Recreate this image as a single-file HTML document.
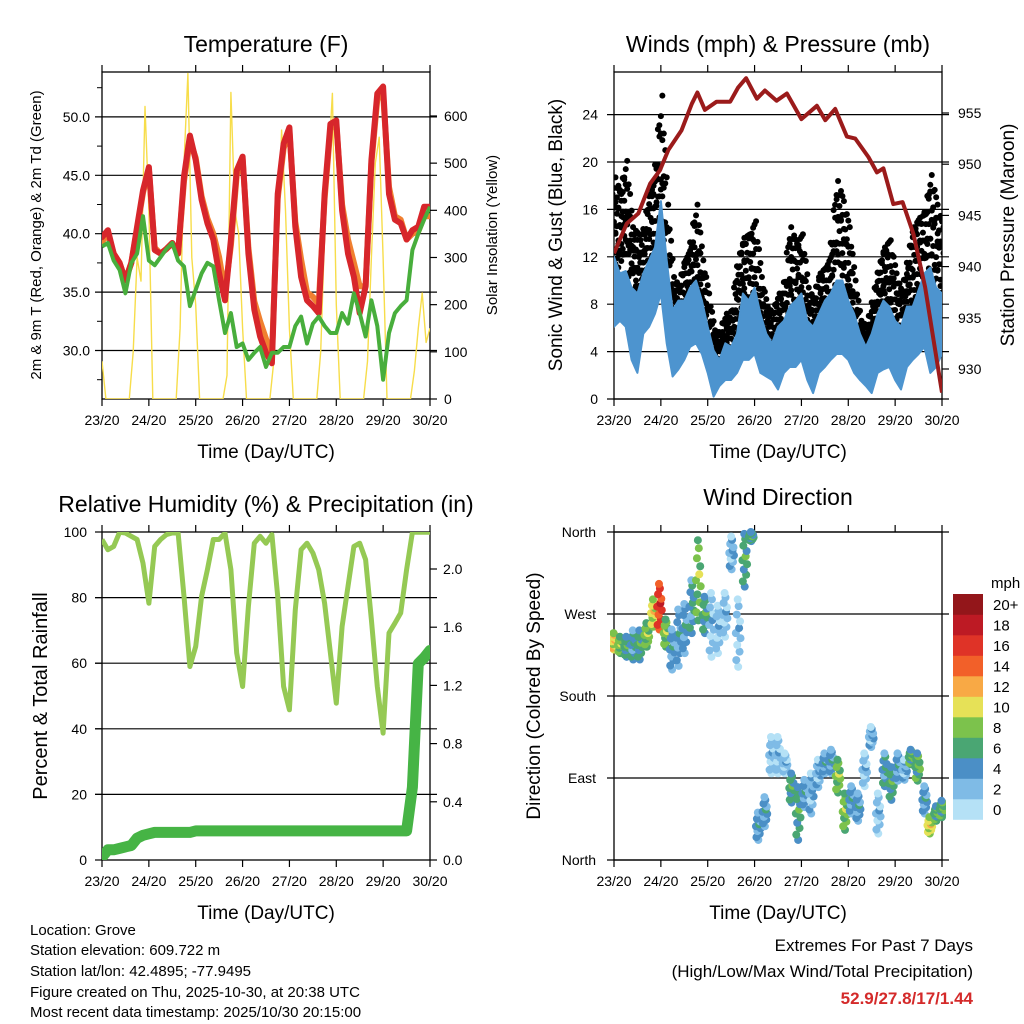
<!DOCTYPE html>
<html><head><meta charset="utf-8"><title>Station Meteogram</title>
<style>
html,body{margin:0;padding:0;background:#fff;}
svg{display:block;font-family:"Liberation Sans",Arial,sans-serif;}
</style></head>
<body>
<svg id="chart" width="1024" height="1024" viewBox="0 0 1024 1024" xmlns="http://www.w3.org/2000/svg">
<defs>
<clipPath id="cT"><rect x="102" y="72" width="328" height="327"/></clipPath>
<clipPath id="cW"><rect x="614" y="72" width="328" height="327"/></clipPath>
<clipPath id="cR"><rect x="102" y="532" width="328" height="328"/></clipPath>
<clipPath id="cD"><rect x="610" y="526" width="336" height="338"/></clipPath>
</defs>
<rect width="1024" height="1024" fill="#fff"/>

<text x="266" y="52" font-size="23" text-anchor="middle">Temperature (F)</text>
<text x="778" y="52" font-size="23" text-anchor="middle">Winds (mph) &amp; Pressure (mb)</text>
<text x="266" y="512" font-size="23" text-anchor="middle">Relative Humidity (%) &amp; Precipitation (in)</text>
<text x="778" y="505" font-size="23" text-anchor="middle">Wind Direction</text>

<text x="266" y="458" font-size="19" text-anchor="middle">Time (Day/UTC)</text>
<text x="778" y="458" font-size="19" text-anchor="middle">Time (Day/UTC)</text>
<text x="266" y="919" font-size="19" text-anchor="middle">Time (Day/UTC)</text>
<text x="778" y="919" font-size="19" text-anchor="middle">Time (Day/UTC)</text>

<text transform="translate(41,235) rotate(-90)" font-size="15" text-anchor="middle">2m &amp; 9m T (Red, Orange) &amp; 2m Td (Green)</text>
<text transform="translate(497,235) rotate(-90)" font-size="15" text-anchor="middle">Solar Insolation (Yellow)</text>
<text transform="translate(562,235) rotate(-90)" font-size="19" text-anchor="middle">Sonic Wind &amp; Gust (Blue, Black)</text>
<text transform="translate(1014,235) rotate(-90)" font-size="19" text-anchor="middle">Station Pressure (Maroon)</text>
<text transform="translate(47,696) rotate(-90)" font-size="20" text-anchor="middle">Percent &amp; Total Rainfall</text>
<text transform="translate(540,696) rotate(-90)" font-size="19" text-anchor="middle">Direction (Colored By Speed)</text>

<g id="layer"></g>

<text x="991" y="588" font-size="15">mph</text>

<g font-size="15">
<text x="30" y="935">Location: Grove</text>
<text x="30" y="955">Station elevation: 609.722 m</text>
<text x="30" y="976">Station lat/lon: 42.4895; -77.9495</text>
<text x="30" y="997">Figure created on Thu, 2025-10-30, at 20:38 UTC</text>
<text x="30" y="1017">Most recent data timestamp: 2025/10/30 20:15:00</text>
</g>
<text x="973" y="951" font-size="17" text-anchor="end">Extremes For Past 7 Days</text>
<text x="973" y="977" font-size="17" text-anchor="end">(High/Low/Max Wind/Total Precipitation)</text>
<text x="973" y="1004" font-size="17" font-weight="bold" fill="#d42a2a" text-anchor="end">52.9/27.8/17/1.44</text>
</svg>
<script>
// ---------- DATA ----------
const dayLabels = ["23/20","24/20","25/20","26/20","27/20","28/20","29/20","30/20"];
// temperature, 3-hourly (1/8 day steps)
const tempRed = [39.7,40.3,38.3,37.5,36.0,37.5,40.6,43.7,45.7,38.6,38.3,38.7,39.2,38.3,44.9,48.4,46.3,42.9,40.9,39.5,36.6,34.3,39.5,45.4,46.6,38.3,33.5,31.2,29.8,28.9,43.4,47.7,49.1,40.6,36.3,34.3,33.8,33.2,43.4,49.4,49.7,42.0,38.3,36.3,33.2,35.5,46.3,52.0,52.6,43.4,41.2,40.9,39.5,40.3,40.6,42.3,42.3];
const tempOrange = [39.3,40.0,38.3,37.5,36.0,37.5,40.4,43.5,45.5,38.8,38.3,38.7,39.2,38.3,44.5,48.0,46.5,43.2,41.3,40.0,38.0,35.0,39.0,45.0,46.4,38.8,34.2,32.5,31.0,29.5,43.0,47.3,48.8,41.0,37.8,35.0,34.6,34.0,43.0,49.0,49.4,42.5,39.5,37.5,35.5,35.5,46.0,51.5,52.0,44.0,41.5,41.2,39.5,40.0,40.2,41.5,41.5];
const tempDew = [38.9,39.2,37.7,36.9,34.9,37.5,38.3,41.5,37.7,37.3,38.0,38.7,39.2,37.7,37.2,33.8,35.2,36.6,37.5,37.2,34.3,31.5,33.2,30.3,30.6,29.2,29.8,30.3,28.6,29.8,29.8,30.3,30.3,32.1,32.9,30.6,32.3,32.9,32.1,31.5,31.5,33.2,32.3,34.9,33.2,31.2,34.3,32.1,27.5,31.5,33.2,33.8,34.3,38.6,40.0,41.2,42.3];
// solar insolation, 2-hourly (W/m2)
const solar = [80,0,0,0,0,0,0,0,100,300,250,620,400,0,0,0,0,0,0,0,150,500,690,300,200,0,0,0,0,0,0,0,50,650,400,350,150,0,0,0,0,0,0,0,80,300,570,400,150,0,0,0,0,0,0,0,100,350,500,648,200,0,0,0,0,0,0,0,80,300,500,555,300,0,0,0,0,0,0,0,60,150,225,120,150];
// winds, 3-hourly (mph)
const windHi = [12.0,10.6,10.8,9.4,8.9,10.6,11.7,12.8,16.7,11.7,7.5,8.3,8.3,9.4,10.0,8.3,6.1,4.1,3.3,4.7,4.4,5.5,8.9,8.3,9.4,7.2,5.5,4.7,6.1,6.6,7.8,8.3,8.9,6.6,6.1,7.2,8.3,8.9,10.0,10.0,8.3,7.2,5.5,4.4,5.5,7.2,8.3,7.8,6.6,6.1,7.8,7.8,9.2,10.6,11.1,9.4,8.9];
const windLo = [6.1,6.6,6.1,3.3,2.2,5.5,6.1,7.2,8.9,4.7,1.9,2.5,3.3,4.4,4.7,3.8,2.2,0.2,1.1,1.6,1.6,2.2,3.3,3.3,3.8,2.2,1.9,1.6,0.8,2.2,2.7,2.7,3.3,1.6,0.5,2.2,2.7,3.3,3.8,3.8,3.3,2.2,1.6,1.1,0.5,2.2,2.5,2.7,1.6,0.8,2.7,3.3,3.8,4.4,2.2,2.7,3.8];
const gustHi = [18.7,17.3,20.1,14.5,13.9,13.9,17.3,18.7,25.6,16.4,10.3,9.4,11.7,12.8,16.4,11.7,8.9,5.8,5.5,7.2,6.6,11.1,13.6,13.9,15.0,10.3,7.8,7.2,8.9,8.9,14.5,13.1,13.9,9.4,8.3,10.6,11.1,12.2,18.4,16.7,14.5,10.0,6.6,6.1,7.8,10.6,12.8,13.4,10.6,8.9,11.1,14.5,15.3,15.6,18.9,16.4,14.5];
const gustLo = [11.7,11.1,12.2,8.9,7.5,9.4,10.6,11.7,13.1,8.9,5.5,4.7,5.3,7.5,8.9,6.7,4.7,2.7,2.2,3.3,3.3,4.7,6.7,6.1,7.2,5.3,3.9,3.3,3.3,4.4,6.1,6.1,6.7,4.4,3.9,5.0,5.5,6.1,8.3,8.9,7.2,5.5,3.9,3.3,3.9,5.0,6.1,6.1,5.0,4.4,6.1,6.7,8.3,7.8,8.9,8.3,7.2];
// pressure (mb) at irregular days
const presDay = [0,0.27,0.52,0.77,0.98,1.16,1.44,1.66,1.78,1.94,2.19,2.48,2.65,2.82,3.05,3.22,3.47,3.69,4.0,4.33,4.51,4.72,4.97,5.15,5.43,5.61,5.75,5.96,6.16,6.39,6.64,6.82,7.0];
const presVal = [941.3,944.2,945.2,948.1,949.4,951.4,953.3,955.9,957.0,955.3,956.1,956.1,957.5,958.4,956.4,957.2,956.2,956.9,954.4,955.7,954.3,955.4,952.7,952.5,950.7,949.2,949.6,946.1,946.3,943.2,938.0,932.8,927.7];
// relative humidity (%) & precip (in), 3-hourly
const rh = [97.7,94.6,95.6,99.9,99.7,98.7,97.7,90.5,78.3,95.6,97.7,99.2,99.7,99.7,80.4,59.0,65.1,80.4,88.5,97.7,97.7,99.7,88.5,63.1,52.9,77.3,96.6,98.7,96.6,99.2,80.4,52.9,45.8,76.3,94.6,96.6,93.6,88.5,78.3,63.1,47.8,71.2,83.4,95.6,96.6,91.6,73.2,52.9,38.7,69.2,72.2,75.3,88.5,99.9,99.9,99.9,99.9];
const precip = [0.02,0.07,0.07,0.08,0.09,0.10,0.15,0.17,0.18,0.19,0.19,0.19,0.19,0.19,0.19,0.19,0.20,0.20,0.20,0.20,0.20,0.20,0.20,0.20,0.20,0.20,0.20,0.20,0.20,0.20,0.20,0.20,0.20,0.20,0.20,0.20,0.20,0.20,0.20,0.20,0.20,0.20,0.20,0.20,0.20,0.20,0.20,0.20,0.20,0.20,0.20,0.20,0.20,0.50,1.35,1.39,1.44];
// wind direction clusters
const dirDay = [0,0.135,0.27,0.41,0.55,0.70,0.84,0.97,1.11,1.24,1.38,1.51,1.66,1.80,1.94,2.08,2.22,2.37,2.51,2.65,2.79,2.93,3.08,3.22,3.36,3.50,3.65,3.79,3.93,4.07,4.21,4.36,4.50,4.64,4.78,4.93,5.07,5.21,5.35,5.49,5.64,5.78,5.92,6.06,6.20,6.34,6.48,6.63,6.74,6.88,7.0];
const dirDeg = [240,236,234,236,236,247,271,278,249,231,244,254,278,307,269,258,253,269,337,249,329,355,37,53,115,115,106,79,51,73,73,95,106,108,92,53,66,58,99,135,51,99,84,102,99,113,102,66,38,51,56];
const dirSpread = [9,9,11,16,16,13,15,25,15,22,31,27,29,44,20,35,26,24,18,37,29,5,15,16,20,20,11,16,29,15,22,15,11,13,18,20,15,15,18,11,22,18,18,15,11,8,15,15,9,8,9];
const dirSpeed = [11,8,6,5,6,8,10,16,8,4,4,4,5,8,6,2,2,2,3,2,6,6,4,4,2,2,2,6,6,4,3,3,4,4,8,8,4,4,2,3,2,5,6,4,3,7,7,4,10,7,7];
const speedLabels = ["0","2","4","6","8","10","12","14","16","18","20+"];
const tempTicks = [30,35,40,45,50];
const solarTicks = [0,100,200,300,400,500,600];
const windTicks = [0,4,8,12,16,20,24];
const presTicks = [930,935,940,945,950,955];
const rhTicks = [0,20,40,60,80,100];
const prTicks = [0.0,0.4,0.8,1.2,1.6,2.0];
const dirTicks = [0,90,180,270,360];
const dirNames = ["North","East","South","West","North"];

// ---------- SCALES ----------
const NS="http://www.w3.org/2000/svg";
const layer=document.getElementById('layer');
const xL=d=>102+d*328/7;
const xR=d=>614+d*328/7;
const yT=v=>350.5-(v-30)*11.68;
const yS=v=>399-v*0.4717;
const yW=v=>399-v*11.85;
const yP=p=>113+(955-p)*10.24;
const yRH=v=>860-v*3.28;
const yPr=p=>860-p*145.5;
const yD=d=>860-d*328/360;
const speedColors=["#b5e1f6","#7fbbe6","#4b8fc6","#4aa673","#7cc24c","#e6e157","#f8a945","#f26029","#df3327","#bd1a24","#93161a"];
function colorFor(s){return speedColors[Math.max(0,Math.min(10,Math.floor(s/2)))];}
function mk(tag,attrs,parent){const e=document.createElementNS(NS,tag);for(const k in attrs)e.setAttribute(k,attrs[k]);(parent||layer).appendChild(e);return e;}
function txt(x,y,s,anchor,size,parent){const e=mk('text',{x:x,y:y,'font-size':size||14,'text-anchor':anchor||'start'},parent);e.textContent=s;return e;}
function pathFrom(xs,ys){return xs.map((x,i)=>(i?'L':'M')+x.toFixed(1)+','+ys[i].toFixed(1)).join('');}

function frame(x0,y0,w,h,gridYs,xf,name){
  const g=mk('g',{});
  
  
  gridYs.forEach(y=>{const l=mk('line',{x1:x0-7,x2:x0+w+7,y1:y,y2:y,stroke:'#000','stroke-width':1.2},g);
    
    });
  const r=mk('rect',{x:x0,y:y0,width:w,height:h,fill:'none',stroke:'#000','stroke-width':1.3},g);
  
  
  for(let d=0;d<=7;d++){const x=xf(d);
    mk('line',{x1:x,x2:x,y1:y0+h,y2:y0+h+7,stroke:'#000','stroke-width':1.2},g);
    mk('line',{x1:x,x2:x,y1:y0,y2:y0-7,stroke:'#000','stroke-width':1.2},g);
    const t=txt(x,y0+h+26,dayLabels[d],'middle',14,g);
    
    }
  return g;
}

// ---------- TEMPERATURE PANEL ----------
const tG=frame(102,72,328,327,tempTicks.map(yT),xL,'temperature');
tempTicks.forEach(v=>{const t=txt(90,yT(v)+5,v.toFixed(1),'end',14,tG);
  
  });
for(let v=27.5;v<54;v+=5){mk('line',{x1:97,x2:102,y1:yT(v),y2:yT(v),stroke:'#000'},tG);}
solarTicks.forEach(v=>{mk('line',{x1:430,x2:437,y1:yS(v),y2:yS(v),stroke:'#000','stroke-width':1.2},tG);
  const t=txt(444,yS(v)+5,String(v),'start',14,tG);
  
  });
const tPlot=mk('g',{'clip-path':'url(#cT)'});


const solarLine=mk('path',{d:pathFrom(solar.map((v,i)=>xL(i/12)),solar.map(yS)),fill:'none',stroke:'#f7dd4a','stroke-width':1.4,'stroke-linejoin':'round'},tPlot);


const oLine=mk('path',{d:pathFrom(tempOrange.map((v,i)=>xL(i/8)),tempOrange.map(yT)),fill:'none',stroke:'#f08030','stroke-width':6,'stroke-linejoin':'round','stroke-linecap':'round'},tPlot);


const rLine=mk('path',{d:pathFrom(tempRed.map((v,i)=>xL(i/8)),tempRed.map(yT)),fill:'none',stroke:'#d7262b','stroke-width':6,'stroke-linejoin':'round','stroke-linecap':'round'},tPlot);


const gLine=mk('path',{d:pathFrom(tempDew.map((v,i)=>xL(i/8)),tempDew.map(yT)),fill:'none',stroke:'#48ae3c','stroke-width':4,'stroke-linejoin':'round'},tPlot);



// ---------- WINDS PANEL ----------
const wG=frame(614,72,328,327,windTicks.map(yW),xR,'winds');
windTicks.forEach(v=>{const t=txt(598,yW(v)+5,String(v),'end',14,wG);
  
  });
presTicks.forEach(v=>{mk('line',{x1:942,x2:949,y1:yP(v),y2:yP(v),stroke:'#000','stroke-width':1.2},wG);
  const t=txt(958,yP(v)+5,String(v),'start',14,wG);
  
  });
const wPlot=mk('g',{'clip-path':'url(#cW)'});


const wxs=gustHi.map((v,i)=>xR(i/8));
const fr=[0,0.2,0.4,0.6,0.8,1];
const sub=[0,0.25,0.5,0.75];
const zig=[0,0.12,-0.08,0.1];
for(let i=0;i<gustHi.length;i++){
  sub.forEach((s,k)=>{
    if(i===gustHi.length-1 && s>0) return;
    const j=Math.min(i+1,gustHi.length-1);
    const hi=gustHi[i]*(1-s)+gustHi[j]*s;
    const lo=gustLo[i]*(1-s)+gustLo[j]*s;
    const x=xR((i+s)/8);
    fr.forEach((f,m)=>{
      const v=lo+(hi-lo)*Math.min(1,Math.max(0,f+zig[(k+m)%4]));
      const c=mk('circle',{cx:x+((m%2)?1.5:-1.5),cy:yW(v),r:3,fill:'#000'},wPlot);
      
      
    });
  });
}
const windBand=mk('path',{d:pathFrom(wxs.concat(wxs.slice().reverse()),windHi.map(yW).concat(windLo.map(yW).reverse()))+'Z',fill:'#4d94cf',stroke:'#4d94cf','stroke-width':2,'stroke-linejoin':'round'},wPlot);


const pLine=mk('path',{d:pathFrom(presDay.map(xR),presVal.map(yP)),fill:'none',stroke:'#9b1b1b','stroke-width':4,'stroke-linejoin':'round'},wPlot);



// ---------- RH PANEL ----------
const rG=frame(102,532,328,328,rhTicks.slice(1,5).map(yRH),xL,'humidity');
rhTicks.forEach(v=>{mk('line',{x1:95,x2:102,y1:yRH(v),y2:yRH(v),stroke:'#000','stroke-width':1.2},rG);
  const t=txt(87,yRH(v)+5,String(v),'end',14,rG);
  
  });
prTicks.forEach(v=>{mk('line',{x1:430,x2:437,y1:yPr(v),y2:yPr(v),stroke:'#000','stroke-width':1.2},rG);
  const t=txt(443,yPr(v)+5,v.toFixed(1),'start',14,rG);
  
  });
const rPlot=mk('g',{'clip-path':'url(#cR)'});


const rhLine=mk('path',{d:pathFrom(rh.map((v,i)=>xL(i/8)),rh.map(yRH)),fill:'none',stroke:'#95c954','stroke-width':5,'stroke-linejoin':'round'},rPlot);


const prLine=mk('path',{d:pathFrom(precip.map((v,i)=>xL(i/8)),precip.map(yPr)),fill:'none',stroke:'#46b445','stroke-width':11,'stroke-linejoin':'round','stroke-linecap':'round'},rPlot);



// ---------- WIND DIRECTION PANEL ----------
const dG=frame(614,532,328,328,dirTicks.map(yD),xR,'direction');
dirTicks.forEach((v,i)=>{const t=txt(596,yD(v)+5,dirNames[i],'end',14,dG);
  
  });
const dPlot=mk('g',{'clip-path':'url(#cD)'});


const offs=[-1,-0.8,-0.55,-0.35,-0.15,0,0.15,0.35,0.55,0.8,1];
const jit=[0,-0.04,0.03,-0.02,0.05,-0.05,0.02,0.04,-0.03,0.01,-0.01];
const sv=[-1,1,0,-2,1,0,2,-1,0,1,-2];
dirDay.forEach((d,i)=>{
  offs.forEach((o,k)=>{
    let deg=dirDeg[i]+o*dirSpread[i];
    if(deg>360)deg-=360; if(deg<0)deg+=360;
    const c=mk('circle',{cx:xR(d+jit[k]),cy:yD(deg),r:4,fill:colorFor(dirSpeed[i]+sv[k])},dPlot);
    
    
  });
});
// colorbar
const cb=mk('g',{});


speedLabels.forEach((s,i)=>{const y=799-i*20.5;
  const r=mk('rect',{x:953,y:y,width:30,height:20.8,fill:speedColors[i]},cb);
  
  
  const t=txt(993,y+16,s,'start',15,cb);
  
  });
</script>
</body></html>
